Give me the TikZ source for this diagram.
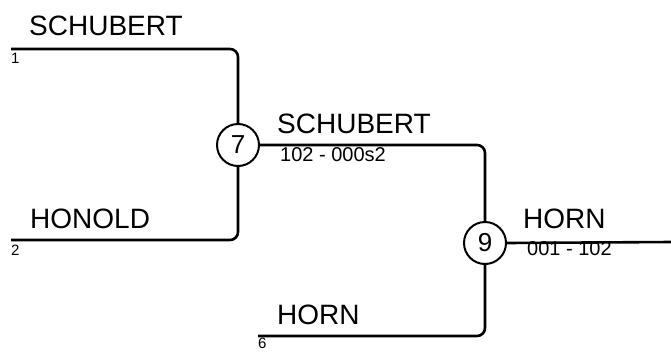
\documentclass[tikz,border=0pt]{standalone}
\usepackage{fontspec}
\setmainfont{Liberation Sans}
\begin{document}
\begin{tikzpicture}[x=1pt,y=1pt,
  wire/.style={line width=2.6pt, rounded corners=8pt},
  big/.style={anchor=base west, inner sep=0pt, font=\fontsize{28}{30}\selectfont},
  small/.style={anchor=base west, inner sep=0pt, font=\fontsize{20}{22}\selectfont},
  seed/.style={anchor=base west, inner sep=0pt, font=\fontsize{15}{16}\selectfont},
  game/.style={circle, draw, line width=2pt, minimum size=42pt, inner sep=0pt, font=\fontsize{26}{28}\selectfont}]
\useasboundingbox (0,0) rectangle (671,-351);
% match nodes
\node[game] (g7) at (238,-145) {7};
\node[game] (g9) at (485,-243) {9};
% endpoints
\coordinate (s1) at (11,-49);
\coordinate (s2) at (11,-240);
\coordinate (s6) at (258,-336);
\coordinate (out) at (671,-242);
% connectors
\draw[wire] (s1) -| (g7.north);
\draw[wire] (s2) -| (g7.south);
\draw[wire] (g7.east) -| (g9.north);
\draw[wire] (s6) -| (g9.south);
\draw[wire] (g9.east) -- (out);
% labels
\node[big] (t1) at (29,-35) {SCHUBERT};
\node[seed] (n1) at (11,-63) {1};
\node[big] (t2) at (30,-228) {HONOLD};
\node[seed] (n2) at (11,-255) {2};
\node[big] (t7) at (277,-133) {SCHUBERT};
\node[small] (r7) at (280,-161) {102 - 000s2};
\node[big] (t6) at (277,-324) {HORN};
\node[seed] (n6) at (258,-348) {6};
\node[big] (t9) at (523,-228) {HORN};
\node[small] (r9) at (527,-255) {001 - 102};
\end{tikzpicture}
\end{document}
